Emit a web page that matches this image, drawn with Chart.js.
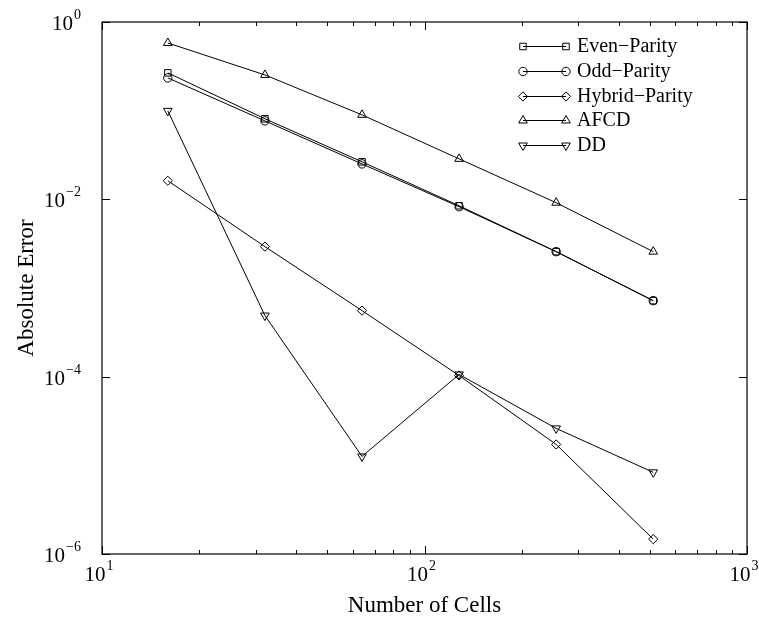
<!DOCTYPE html>
<html>
<head>
<meta charset="utf-8">
<script src="https://cdn.jsdelivr.net/npm/chart.js@4/dist/chart.umd.min.js"></script>
<style>
  html, body { margin: 0; padding: 0; background: #fff; }
  #wrap { width: 759px; height: 620px; }
</style>
</head>
<body>
<div id="wrap"><canvas id="c" width="759" height="620"></canvas></div>
<script>
// Convergence of the absolute error with mesh refinement
const cells = [16, 32, 64, 128, 256, 512];
const evenParity   = [0.267, 0.081, 0.0265, 0.00847, 0.00257, 0.00072];
const oddParity    = [0.234, 0.0767, 0.0251, 0.00826, 0.00257, 0.00072];
const hybridParity = [0.0162, 0.00293, 0.000556, 1.03e-4, 1.72e-5, 1.47e-6];
const afcd         = [0.58, 0.253, 0.0897, 0.0286, 0.00916, 0.00257];
const dd           = [0.0995, 4.89e-4, 1.26e-5, 1.06e-4, 2.61e-5, 8.34e-6];

const seriesNames = ['Even\u2212Parity', 'Odd\u2212Parity', 'Hybrid\u2212Parity', 'AFCD', 'DD'];
const xTickExponents = [1, 2, 3];
const yTickExponents = [0, -2, -4, -6];
const xTitle = 'Number of Cells';
const yTitle = 'Absolute Error';

const SERIF = '"Liberation Serif", "DejaVu Serif", serif';

function pairs(ys) { return cells.map((x, i) => ({ x: x, y: ys[i] })); }

const markerStyles = [
  { pointStyle: 'rect', radius: 4.6, rotation: 0 },
  { pointStyle: 'circle', radius: 4.2, rotation: 0 },
  { pointStyle: 'rectRot', radius: 4.6, rotation: 0 },
  { pointStyle: 'triangle', radius: 5, rotation: 0 },
  { pointStyle: 'triangle', radius: 5, rotation: 180 }
];

const allSeries = [evenParity, oddParity, hybridParity, afcd, dd];

const datasets = allSeries.map((ys, i) => ({
  label: seriesNames[i],
  data: pairs(ys),
  borderColor: '#000',
  borderWidth: 1,
  backgroundColor: 'rgba(0,0,0,0)',
  pointStyle: markerStyles[i].pointStyle,
  pointRadius: markerStyles[i].radius,
  pointRotation: markerStyles[i].rotation,
  pointBorderColor: '#000',
  pointBackgroundColor: 'rgba(0,0,0,0)',
  pointBorderWidth: 1,
  tension: 0,
  fill: false
}));

function drawPower(ctx, exp, x, y, align) {
  // "10" with a raised exponent; align: 'center' or 'right'
  const base = '10';
  const sup = exp < 0 ? '\u2212' + Math.abs(exp) : String(exp);
  ctx.font = '21px ' + SERIF;
  const wb = ctx.measureText(base).width;
  ctx.font = '14px ' + SERIF;
  const ws = ctx.measureText(sup).width;
  const total = wb + 1 + ws;
  let x0 = align === 'center' ? x - total / 2 : x - total;
  ctx.textAlign = 'left';
  ctx.textBaseline = 'alphabetic';
  ctx.font = '21px ' + SERIF;
  ctx.fillText(base, x0, y);
  ctx.font = '14px ' + SERIF;
  ctx.fillText(sup, x0 + wb + 1, y - 11);
}

const axesPlugin = {
  id: 'framedLogAxes',
  afterDatasetsDraw(chart) {
    const ctx = chart.ctx;
    const a = chart.chartArea;
    const xs = chart.scales.x, ys = chart.scales.y;
    ctx.save();
    ctx.strokeStyle = '#000';
    ctx.fillStyle = '#000';
    ctx.lineWidth = 1.2;
    ctx.strokeRect(a.left, a.top, a.right - a.left, a.bottom - a.top);

    ctx.lineWidth = 1;
    ctx.beginPath();
    // x ticks: majors at decades, minors at 2..9
    for (let e = xTickExponents[0]; e <= xTickExponents[xTickExponents.length - 1]; e++) {
      const px = Math.round(xs.getPixelForValue(Math.pow(10, e))) + 0.5;
      ctx.moveTo(px, a.bottom); ctx.lineTo(px, a.bottom - 8);
      ctx.moveTo(px, a.top); ctx.lineTo(px, a.top + 8);
      if (e < xTickExponents[xTickExponents.length - 1]) {
        for (let m = 2; m <= 9; m++) {
          const pm = Math.round(xs.getPixelForValue(m * Math.pow(10, e))) + 0.5;
          ctx.moveTo(pm, a.bottom); ctx.lineTo(pm, a.bottom - 4);
          ctx.moveTo(pm, a.top); ctx.lineTo(pm, a.top + 4);
        }
      }
    }
    // y ticks at labelled decades
    yTickExponents.forEach(e => {
      const py = Math.round(ys.getPixelForValue(Math.pow(10, e))) + 0.5;
      ctx.moveTo(a.left, py); ctx.lineTo(a.left + 8, py);
      ctx.moveTo(a.right, py); ctx.lineTo(a.right - 8, py);
    });
    ctx.stroke();

    // tick labels
    xTickExponents.forEach(e => {
      const px = xs.getPixelForValue(Math.pow(10, e));
      drawPower(ctx, e, px - 3, a.bottom + 27, 'center');
    });
    yTickExponents.forEach(e => {
      const py = ys.getPixelForValue(Math.pow(10, e));
      drawPower(ctx, e, 81, py + 8, 'right');
    });

    // axis titles
    ctx.font = '23px ' + SERIF;
    ctx.textAlign = 'center';
    ctx.textBaseline = 'alphabetic';
    ctx.fillText(xTitle, (a.left + a.right) / 2, 612);
    ctx.save();
    ctx.translate(33, (a.top + a.bottom) / 2);
    ctx.rotate(-Math.PI / 2);
    ctx.fillText(yTitle, 0, 0);
    ctx.restore();

    // legend: line with a marker at each end, then the name
    const lx0 = 523, lx1 = 566, tx = 577;
    const rowY = [46, 71, 96, 120, 145];
    chart.data.datasets.forEach((ds, i) => {
      const y = rowY[i];
      ctx.lineWidth = 1;
      ctx.strokeStyle = '#000';
      ctx.beginPath();
      ctx.moveTo(lx0, y + 0.5); ctx.lineTo(lx1, y + 0.5);
      ctx.stroke();
      const opts = {
        pointStyle: ds.pointStyle,
        radius: ds.pointRadius,
        rotation: ds.pointRotation,
        borderWidth: 1
      };
      ctx.fillStyle = 'rgba(0,0,0,0)';
      Chart.helpers.drawPoint(ctx, opts, lx0, y + 0.5);
      Chart.helpers.drawPoint(ctx, opts, lx1, y + 0.5);
      ctx.fillStyle = '#000';
      ctx.font = '20px ' + SERIF;
      ctx.textAlign = 'left';
      ctx.textBaseline = 'middle';
      ctx.fillText(ds.label, tx, y + 1);
    });
    ctx.restore();
  }
};

new Chart(document.getElementById('c'), {
  type: 'line',
  data: { datasets: datasets },
  options: {
    responsive: false,
    animation: false,
    layout: { padding: { left: 102, top: 22, right: 12, bottom: 66 } },
    plugins: { legend: { display: false }, tooltip: { enabled: false } },
    scales: {
      x: { type: 'logarithmic', min: 10, max: 1000, display: false },
      y: { type: 'logarithmic', min: 1e-6, max: 1, display: false }
    },
    elements: { line: { borderJoinStyle: 'miter' } }
  },
  plugins: [axesPlugin]
});
</script>
</body>
</html>
